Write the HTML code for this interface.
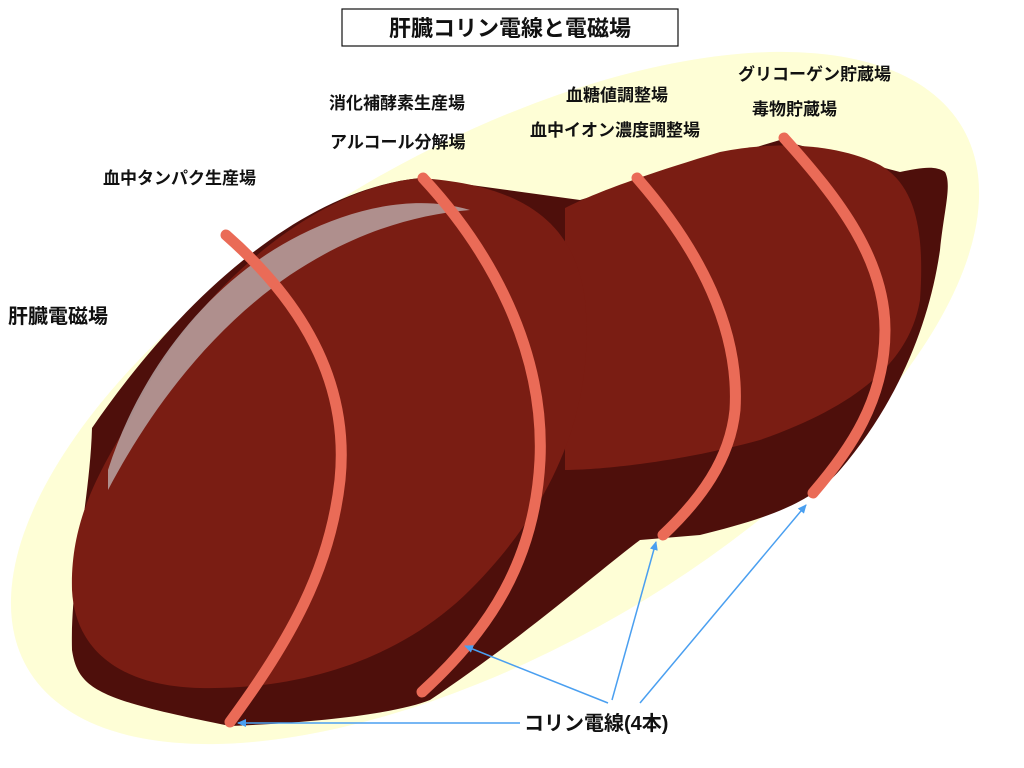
<!DOCTYPE html>
<html><head><meta charset="utf-8"><style>
html,body{margin:0;padding:0;background:#fff;width:1024px;height:768px;overflow:hidden}
svg{display:block}
svg text{font-family:"Liberation Sans","Noto Sans CJK JP",sans-serif;fill:#111;font-weight:bold}
</style></head><body>
<svg width="1024" height="768" viewBox="0 0 1024 768">
<defs><marker id="a" markerWidth="10" markerHeight="10" refX="8" refY="5" orient="auto" markerUnits="userSpaceOnUse"><path d="M0,1 L9,5 L0,9 Z" fill="#4a9ff0"/></marker></defs>
<ellipse cx="495" cy="398" rx="540" ry="250" transform="rotate(-30 495 398)" fill="#fefed6"/>
<!-- dark base -->
<path d="M92,428 C90,500 70,580 72,650 C78,690 100,700 230,726 C330,722 400,712 430,700 C520,640 600,570 640,540 L700,535 C760,520 810,505 840,470 C900,400 930,320 940,250 C944,210 952,185 945,172 C935,165 920,168 900,172 L780,140 L580,200 L420,178 C300,190 180,300 92,428 Z" fill="#4e0f0b"/>
<!-- right lobe -->
<path d="M565,208 C600,190 660,170 720,152 C780,140 840,145 880,165 C915,185 925,230 920,300 C910,360 860,405 760,440 C680,462 600,470 565,470 Z" fill="#7a1d13"/>
<!-- left lobe -->
<path d="M420,178 C520,185 575,220 585,300 C595,400 560,500 470,590 C400,660 300,690 200,688 C120,686 75,650 72,590 C70,520 100,470 130,420 C180,310 300,190 420,178 Z" fill="#7a1d13"/>
<!-- highlight -->
<path d="M108,470 C140,370 210,280 300,235 C360,205 420,195 470,210 C410,215 350,235 290,275 C210,330 150,410 108,490 Z" fill="#b9a3a3" opacity="0.85"/>
<!-- wires -->
<g fill="none" stroke="#ea6b57" stroke-width="11" stroke-linecap="round">
<path d="M226,235 C300,300 350,380 340,480 C330,570 290,640 230,722"/>
<path d="M423,178 C490,250 545,350 540,460 C535,560 490,630 422,692"/>
<path d="M637,178 C700,250 740,330 735,410 C730,460 700,500 663,535"/>
<path d="M784,138 C840,200 885,260 885,330 C885,400 850,450 813,493"/>
</g>
<g stroke="#4a9ff0" stroke-width="1.5" fill="none" marker-end="url(#a)">
<path d="M520,723 L238,723"/>
<path d="M608,703 L465,646"/>
<path d="M612,700 L656,542"/>
<path d="M640,703 L806,505"/>
</g>
<rect x="342" y="9" width="336" height="37" fill="#fff" stroke="#111" stroke-width="1.2"/>
<text x="510" y="36" font-size="22" text-anchor="middle">肝臓コリン電線と電磁場</text>
<g font-size="17">
<text x="103" y="184">血中タンパク生産場</text>
<text x="8" y="323" font-size="20">肝臓電磁場</text>
<text x="329" y="109">消化補酵素生産場</text>
<text x="330" y="148">アルコール分解場</text>
<text x="566" y="101">血糖値調整場</text>
<text x="530" y="136">血中イオン濃度調整場</text>
<text x="738" y="80">グリコーゲン貯蔵場</text>
<text x="752" y="115">毒物貯蔵場</text>
<text x="524" y="730" font-size="20">コリン電線(4本)</text>
</g>
</svg>
</body></html>
